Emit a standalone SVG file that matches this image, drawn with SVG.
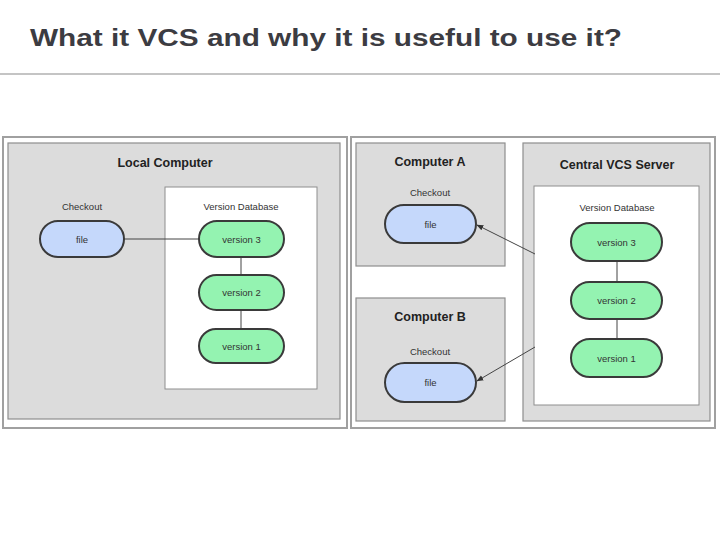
<svg xmlns="http://www.w3.org/2000/svg" width="720" height="540" viewBox="0 0 720 540">
<style>
.frame{fill:#ffffff;stroke:#a0a0a0;stroke-width:2}
.panel{fill:#dcdcdc;stroke:#8e8e8e;stroke-width:1.2}
.db{fill:#ffffff;stroke:#8e8e8e;stroke-width:1}
.file{fill:#c5d8fb;stroke:#3a3a3a;stroke-width:2}
.ver{fill:#94f3b1;stroke:#3a3a3a;stroke-width:2}
.h{font-family:"Liberation Sans",Arial,sans-serif;font-weight:bold;font-size:12.5px;fill:#222;text-anchor:middle}
.s{font-family:"Liberation Sans",Arial,sans-serif;font-size:9.5px;fill:#333;text-anchor:middle}
.l{stroke:#444;stroke-width:1;fill:none}
</style>
<defs>
<marker id="arr" viewBox="0 0 10 10" refX="9" refY="5" markerWidth="7" markerHeight="7" orient="auto">
<path d="M0,1 L10,5 L0,9 z" fill="#333"/>
</marker>
</defs>
<rect width="720" height="540" fill="#ffffff"/>
<g id="title">
<text x="30" y="46" font-family="'Liberation Sans',Arial,sans-serif" font-weight="bold" font-size="24" fill="#3c3c42" textLength="592" lengthAdjust="spacingAndGlyphs">What it VCS and why it is useful to use it?</text>
<line x1="0" y1="74" x2="720" y2="74" stroke="#c4c4c4" stroke-width="2"/>
</g>
<g id="local">
<rect class="frame" x="3" y="137" width="344" height="291"/>
<rect class="panel" x="8" y="143" width="332" height="276"/>
<text class="h" x="165" y="167" font-size="12">Local Computer</text>
<rect class="db" x="165" y="187" width="152" height="202"/>
<text class="s" x="241" y="210">Version Database</text>
<text class="s" x="82" y="210">Checkout</text>
</g>
<g id="remote">
<rect class="frame" x="351" y="137" width="364" height="291"/>
<rect class="panel" x="356" y="143" width="149" height="123"/>
<text class="h" x="430" y="166">Computer A</text>
<text class="s" x="430" y="196">Checkout</text>
<rect class="panel" x="356" y="298" width="149" height="123"/>
<text class="h" x="430" y="321">Computer B</text>
<text class="s" x="430" y="355">Checkout</text>
<rect class="panel" x="523" y="143" width="187" height="278"/>
<text class="h" x="617" y="169">Central VCS Server</text>
<rect class="db" x="534" y="186" width="165" height="219"/>
<text class="s" x="617" y="211">Version Database</text>
</g>
<g id="connectors">
<line class="l" x1="124" y1="239" x2="199" y2="239"/>
<line class="l" x1="241" y1="257" x2="241" y2="275"/>
<line class="l" x1="241" y1="310" x2="241" y2="329"/>
<line class="l" x1="617" y1="261" x2="617" y2="282"/>
<line class="l" x1="617" y1="319" x2="617" y2="339"/>
<line class="l" x1="535" y1="254" x2="477" y2="225" marker-end="url(#arr)"/>
<line class="l" x1="535" y1="347" x2="477" y2="381" marker-end="url(#arr)"/>
</g>
<g id="local-file"><rect class="file" x="40" y="221" width="84" height="36" rx="18"/><text class="s" x="82" y="242.5">file</text></g>
<g id="local-v3"><rect class="ver" x="199" y="221" width="85" height="36" rx="18"/><text class="s" x="241.5" y="242.5">version 3</text></g>
<g id="local-v2"><rect class="ver" x="199" y="275" width="85" height="35" rx="17.5"/><text class="s" x="241.5" y="296">version 2</text></g>
<g id="local-v1"><rect class="ver" x="199" y="329" width="85" height="34" rx="17"/><text class="s" x="241.5" y="349.5">version 1</text></g>
<g id="fileA"><rect class="file" x="385" y="205" width="91" height="38" rx="19"/><text class="s" x="430.5" y="227.5">file</text></g>
<g id="fileB"><rect class="file" x="385" y="363" width="91" height="39" rx="19.5"/><text class="s" x="430.5" y="386">file</text></g>
<g id="server-v3"><rect class="ver" x="571" y="223" width="91" height="38" rx="19"/><text class="s" x="616.5" y="245.5">version 3</text></g>
<g id="server-v2"><rect class="ver" x="571" y="282" width="91" height="37" rx="18.5"/><text class="s" x="616.5" y="304">version 2</text></g>
<g id="server-v1"><rect class="ver" x="571" y="339" width="91" height="38" rx="19"/><text class="s" x="616.5" y="361.5">version 1</text></g>
</svg>
